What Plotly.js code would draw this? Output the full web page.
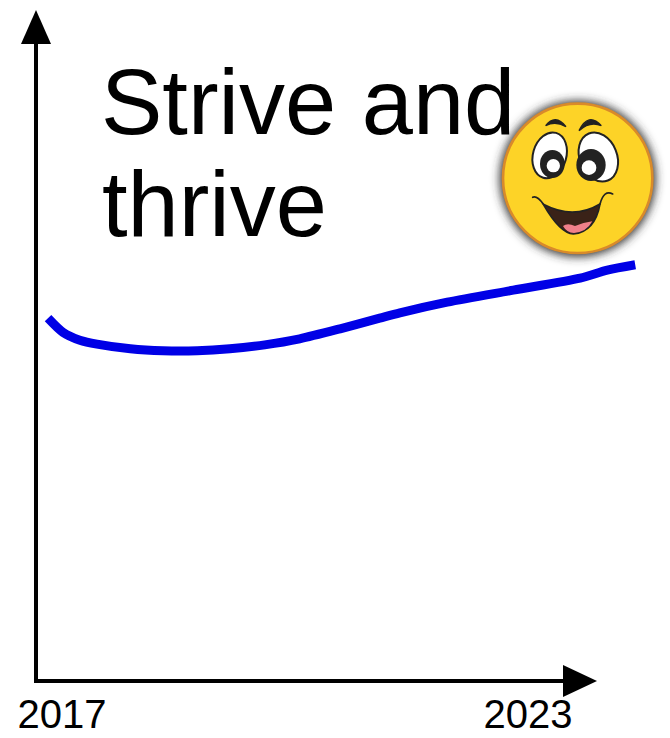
<!DOCTYPE html>
<html><head><meta charset="utf-8">
<script src="https://cdn.plot.ly/plotly-3.0.1.min.js"></script>
<style>html,body{margin:0;padding:0;background:#fff;overflow:hidden}#c{width:670px;height:738px}</style>
</head><body><div id="c"></div>
<script>
var years = [2016.82,2017.01,2017.23,2017.45,2017.88,2018.30,2018.74,2019.16,2019.61,2020.06,2020.58,2021.09,2021.35,2021.96,2022.81,2023.67,2024.02,2024.38];
var index = [54.4,52.3,51.1,50.5,49.8,49.5,49.5,49.8,50.4,51.3,52.8,54.4,55.2,56.8,58.6,60.4,61.6,62.4];
var tickYears = [2017,2023];
var tickLabels = ['2017','2023'];
var titleLines = ['Strive and','thrive'];

var W=670,H=738,L=36,R=670,T=14,B=681;
function px(x){return (x-L)/(R-L);}
function py(y){return (B-y)/(B-T);}
function tri(pts){return 'M'+pts.map(function(p){return px(p[0])+','+py(p[1]);}).join(' L')+' Z';}

var face = '<svg xmlns="http://www.w3.org/2000/svg" width="570" height="570" viewBox="0 0 570 570">'+
'<defs><filter id="b" x="-30%" y="-30%" width="160%" height="160%"><feGaussianBlur stdDeviation="14"/></filter></defs>'+
'<circle cx="293" cy="296" r="234" fill="#333" filter="url(#b)"/>'+
'<circle cx="293" cy="295" r="224" fill="#fdd327" stroke="#d98a2a" stroke-width="8"/>'+
'<path d="M197 137 Q226 100 258 140 Q226 122 197 137Z" fill="#222" stroke="#222" stroke-width="4"/>'+
'<path d="M297 152 Q325 95 364 137 Q330 122 297 152Z" fill="#222" stroke="#222" stroke-width="4"/>'+
'<ellipse cx="209" cy="226" rx="50" ry="70" transform="rotate(16 209 226)" fill="#fff" stroke="#222" stroke-width="6"/>'+
'<ellipse cx="355" cy="231" rx="56" ry="76" transform="rotate(-22 355 231)" fill="#fff" stroke="#222" stroke-width="6"/>'+
'<ellipse cx="217" cy="252" rx="37" ry="42" fill="#222"/><circle cx="220" cy="257" r="20" fill="#fff"/>'+
'<ellipse cx="333" cy="255" rx="44" ry="48" fill="#222"/><circle cx="327" cy="263" r="22" fill="#fff"/>'+
'<path d="M190 373 Q280 420 360 372 Q345 455 280 462 Q240 460 190 373Z" fill="#3a2218" stroke="#222" stroke-width="5"/>'+
'<path d="M249 438 Q262 428 285 438 Q310 428 337 424 Q320 456 282 459 Q260 458 249 438Z" fill="#f0808a"/>'+
'<path d="M158 352 Q170 345 190 372 M360 372 Q372 328 398 342" fill="none" stroke="#222" stroke-width="5" stroke-linecap="round"/>'+
'</svg>';

var layout = {
  width:W,height:H,
  margin:{l:L,r:W-R,t:T,b:H-B,pad:0},
  paper_bgcolor:'#fff',plot_bgcolor:'rgba(0,0,0,0)',
  showlegend:false,
  font:{family:'"Liberation Sans",Arial,sans-serif',color:'#000'},
  xaxis:{range:[2016.665,2016.665+(R-L)/77.67],showgrid:false,zeroline:false,showline:false,
    tickmode:'array',tickvals:tickYears,ticktext:tickLabels,ticks:'',tickfont:{size:40,color:'#000'},ticklabelstandoff:6,fixedrange:true},
  yaxis:{range:[0,100],showgrid:false,zeroline:false,showline:false,showticklabels:false,ticks:'',fixedrange:true},
  annotations:[
    {text:titleLines[0],xref:'paper',yref:'paper',x:px(100),y:py(133),xanchor:'left',yanchor:'bottom',yshift:-21,showarrow:false,font:{size:92,color:'#000'},borderpad:0},
    {text:titleLines[1],xref:'paper',yref:'paper',x:px(101),y:py(235),xanchor:'left',yanchor:'bottom',yshift:-21,showarrow:false,font:{size:92,color:'#000'},borderpad:0}
  ],
  shapes:[
    {type:'line',xref:'paper',yref:'paper',x0:px(36),x1:px(36),y0:py(683),y1:py(40),line:{color:'#000',width:4}},
    {type:'line',xref:'paper',yref:'paper',x0:px(34),x1:px(570),y0:py(681),y1:py(681),line:{color:'#000',width:4}},
    {type:'path',xref:'paper',yref:'paper',path:tri([[36,10],[21,44],[51,44]]),fillcolor:'#000',line:{width:0}},
    {type:'path',xref:'paper',yref:'paper',path:tri([[597,681],[563,665],[563,697]]),fillcolor:'#000',line:{width:0}}
  ],
  images:[{source:'data:image/svg+xml;charset=utf-8,'+encodeURIComponent(face),xref:'paper',yref:'paper',x:px(480),y:py(80),sizex:190/(R-L),sizey:190/(B-T),xanchor:'left',yanchor:'top',sizing:'stretch',layer:'above'}]
};
Plotly.newPlot('c',[{x:years,y:index,type:'scatter',mode:'lines',cliponaxis:false,line:{color:'#0000e6',width:9,shape:'spline',smoothing:0.8},hoverinfo:'x+y'}],layout,{displayModeBar:false,staticPlot:true});
</script></body></html>
